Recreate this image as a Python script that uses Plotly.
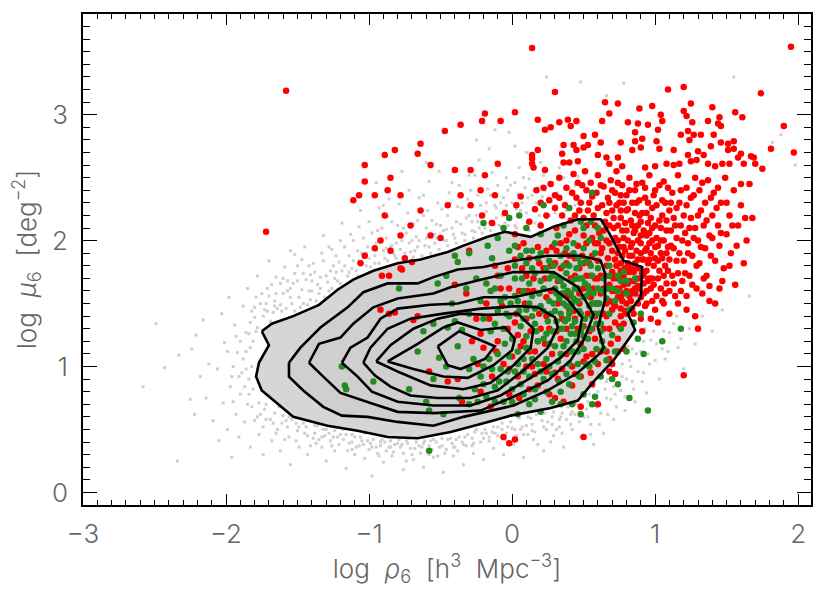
"""log rho6 vs log mu6 scatter with density contours"""
import plotly.graph_objects as go

X_TICKS = [-3, -2, -1, 0, 1, 2]
X_TICK_LABELS = ["−3", "−2", "−1", "0", "1", "2"]
Y_TICKS = [0, 1, 2, 3]
X_RANGE = [-3.0, 2.09]
Y_RANGE = [-0.10, 3.80]

# density contours, outermost first
C1 = [(-1.75,1.28),(-1.68,1.34),(-1.53,1.40),(-1.35,1.49),(-1.22,1.61),(-1.11,1.69),(-0.97,1.76),(-0.80,1.82),
      (-0.64,1.85),(-0.45,1.91),(-0.34,1.96),(-0.17,2.03),(-0.05,2.07),(0.13,2.03),(0.29,2.11),(0.46,2.17),
      (0.62,2.17),(0.67,2.08),(0.78,1.84),(0.91,1.79),(0.90,1.55),(0.81,1.42),(0.86,1.29),(0.71,1.05),
      (0.57,0.88),(0.46,0.73),(0.27,0.67),(-0.01,0.61),(-0.20,0.55),(-0.43,0.48),(-0.66,0.43),(-0.87,0.44),
      (-1.08,0.49),(-1.29,0.53),(-1.53,0.60),(-1.67,0.73),(-1.75,0.81),(-1.79,0.92),(-1.77,1.03),(-1.70,1.17)]
C2 = [(-1.56,1.03),(-1.48,1.15),(-1.34,1.31),(-1.15,1.47),(-1.04,1.59),(-0.87,1.66),(-0.66,1.66),(-0.55,1.71),
      (-0.38,1.77),(-0.20,1.79),(0.01,1.84),(0.25,1.88),(0.48,1.88),(0.62,1.84),(0.65,1.74),(0.65,1.53),
      (0.60,1.31),(0.64,1.15),(0.62,1.11),(0.46,0.95),(0.25,0.81),(0.01,0.69),(-0.34,0.60),(-0.55,0.53),
      (-0.80,0.56),(-1.01,0.60),(-1.19,0.61),(-1.32,0.68),(-1.46,0.81),(-1.56,0.92)]
C3 = [(-1.42,1.03),(-1.35,1.18),(-1.20,1.23),(-1.11,1.34),(-0.97,1.47),(-0.80,1.54),(-0.55,1.58),(-0.43,1.63),
      (-0.22,1.69),(0.01,1.75),(0.29,1.75),(0.46,1.63),(0.57,1.41),(0.50,1.21),(0.41,1.05),(0.25,0.89),
      (0.01,0.76),(-0.22,0.65),(-0.55,0.63),(-0.80,0.64),(-0.99,0.71),(-1.20,0.79),(-1.32,0.92)]
C4 = [(-1.19,1.03),(-1.13,1.15),(-1.01,1.23),(-0.92,1.38),(-0.80,1.46),(-0.57,1.49),(-0.38,1.50),(-0.20,1.55),
      (0.01,1.55),(0.29,1.62),(0.39,1.53),(0.49,1.39),(0.46,1.21),(0.34,1.07),(0.13,0.91),(-0.08,0.77),
      (-0.29,0.69),(-0.55,0.69),(-0.80,0.72),(-0.98,0.80),(-1.08,0.92)]
C5 = [(-1.04,1.03),(-0.99,1.15),(-0.87,1.30),(-0.71,1.38),(-0.48,1.42),(-0.22,1.46),(0.04,1.48),(0.18,1.47),
      (0.30,1.39),(0.32,1.31),(0.25,1.15),(0.08,0.97),(-0.10,0.81),(-0.29,0.75),(-0.52,0.75),(-0.71,0.77),
      (-0.85,0.84),(-0.96,0.93)]
C6 = [(-0.95,1.04),(-0.85,1.17),(-0.69,1.30),(-0.52,1.38),(-0.36,1.42),(-0.17,1.41),(0.04,1.42),(0.15,1.30),
      (0.13,1.15),(0.01,1.01),(-0.15,0.87),(-0.34,0.82),(-0.57,0.85),(-0.78,0.95)]
C7 = [(-0.87,1.04),(-0.66,1.18),(-0.48,1.31),(-0.38,1.35),(-0.22,1.29),(-0.05,1.31),(0.02,1.22),(0.00,1.13),
      (-0.13,1.01),(-0.31,0.91),(-0.48,0.92),(-0.69,0.98)]
C8 = [(-0.52,1.16),(-0.37,1.28),(-0.12,1.16),(-0.19,1.06),(-0.36,0.98),(-0.45,1.01)]
CONTOURS = [C1, C2, C3, C4, C5, C6, C7, C8]

GRAY = [(-2.58,.84),(-2.49,1.34),(-2.43,.99),(-2.34,.25),(-2.16,1.37),(-2.21,1.25),(-2.33,1.09),(-2.24,1.14),(-2.12,1.02),
(-2.18,.92),(-2.25,.74),(-2.14,.75),(-2.09,.57),(-2.22,.62),(-2.05,.41),(-1.96,.28),(-2.06,.98),(-2.01,1.19),(-2.03,1.42),
(-1.98,1.55),(-1.94,1.33),(-1.92,1.11),(-1.97,.84),(-2.02,.71),(-1.93,.62),(-1.99,.5),(-1.91,.44),(-1.88,1.48),(-1.85,1.62),
(-1.86,1.27),(-1.89,.95),(-1.84,.78),(-1.87,.56),(-1.83,.36),(-1.81,1.2),(-1.8,1.39),(-1.79,1.55),(-1.78,1.72),(-1.76,.62),
(-1.77,.46),(-1.74,.3),(-1.73,1.45),(-1.71,1.62),(-1.7,1.84),(-1.69,.58),(-1.68,.41),(-1.66,1.52),(-1.65,1.71),(-1.64,.5),
(-1.62,.33),(-1.61,1.44),(-1.6,1.58),(-1.59,1.79),(-1.58,.57),(-1.56,.44),(-1.55,.22),(-1.54,1.5),(-1.53,1.66),(-1.52,1.89),
(-1.5,.49),(-1.49,.36),(-1.48,1.47),(-1.47,1.61),(-1.46,1.74),(-1.45,1.95),(-1.44,.52),(-1.43,.3),(-1.41,1.53),(-1.4,1.68),
(-1.39,1.82),(-1.38,.47),(-1.37,.39),(-1.35,1.58),(-1.34,1.71),(-1.33,1.9),(-1.32,2.04),(-1.31,.45),(-1.3,.25),(-1.28,1.6),
(-1.27,1.76),(-1.26,1.93),(-1.25,.44),(-1.24,.33),(-1.22,1.68),(-1.21,1.83),(-1.2,2.0),(-1.19,2.14),(-1.18,.42),(-1.16,.19),
(-1.15,1.72),(-1.14,1.88),(-1.13,2.05),(-1.12,.4),(-1.1,.3),(-1.09,1.76),(-1.08,1.92),(-1.07,2.11),(-1.06,2.24),(-1.05,.41),
(-1.03,.27),(-1.02,1.8),(-1.01,1.95),(-1.0,2.15),(-.99,.39),(-.98,.13),(-.96,1.82),(-.95,1.98),(-.94,2.08),(-.93,2.26),
(-.92,.37),(-.9,.24),(-.89,1.86),(-.88,2.02),(-.87,2.19),(-.86,2.33),(-.85,.36),(-.84,.29),(-.82,1.88),(-.81,1.98),(-.8,2.12),
(-.79,2.29),(-.78,.36),(-.76,.18),(-.75,1.9),(-.74,2.06),(-.73,2.22),(-.72,2.4),(-.71,.35),(-.69,.26),(-.68,1.92),(-.67,2.03),
(-.66,2.16),(-.65,2.34),(-.63,.36),(-.62,.2),(-.61,1.96),(-.6,2.1),(-.59,2.24),(-.58,2.47),(-.56,.34),(-.55,.28),(-.54,1.98),
(-.53,2.13),(-.52,2.3),(-.51,2.55),(-.49,.37),(-.48,.16),(-.47,2.0),(-.46,2.09),(-.45,2.2),(-.44,2.38),(-.42,.39),(-.41,.29),
(-.4,2.02),(-.39,2.15),(-.38,2.27),(-.37,2.44),(-.35,.4),(-.34,.22),(-.33,2.05),(-.32,2.18),(-.31,2.33),(-.3,2.52),(-.28,.43),
(-.27,.31),(-.26,2.07),(-.25,2.2),(-.24,2.36),(-.23,2.64),(-.21,.47),(-.2,.26),(-.19,2.1),(-.18,2.23),(-.17,2.41),(-.16,2.73),
(-.14,.48),(-.13,.35),(-.12,2.13),(-.11,2.26),(-.1,2.44),(-.09,2.6),(-.07,.5),(-.06,.3),(-.05,2.14),(-.04,2.28),(-.03,2.4),
(-.02,2.86),(0,.51),(.01,.38),(.02,2.12),(.03,2.25),(.04,2.37),(.05,2.58),(.07,.52),(.08,.28),(.09,2.1),(.1,2.22),(.11,2.34),
(.12,2.49),(.14,.54),(.15,.42),(.16,2.14),(.17,2.3),(.18,2.42),(.2,2.62),(.21,.57),(.22,.33),(.24,2.18),(.25,2.33),(.26,2.46),
(.28,.6),(.29,.45),(.3,2.22),(.32,2.38),(.33,2.58),(.35,.63),(.36,.36),(.38,2.24),(.39,2.42),(.41,.62),(.42,.5),(.44,2.28),
(.46,2.51),(.47,.68),(.48,.44),(.5,2.3),(.53,.72),(.55,.54),(.57,.38),(.6,.8),(.62,.63),(.64,.47),(.67,.9),(.69,.74),(.71,.58),
(.74,.95),(.76,.81),(.79,.65),(.82,1.05),(.84,.88),(.86,.72),(.9,1.12),(.92,.95),(.94,.79),(.97,1.21),(1.0,1.05),(1.03,.9),
(1.06,1.28),(1.09,1.12),(1.13,1.34),(1.16,1.15),(1.2,.98),(1.24,1.3),(1.28,1.18),(1.33,1.4),(1.4,1.28),(1.47,1.45),
(.24,3.3),(.48,3.26),(.66,3.15),(.78,3.25),(1.55,3.3),(1.88,2.84),(1.98,2.6),(1.82,2.78),(1.66,1.56),(-.95,2.46),(-.77,2.55),
(-.6,2.62),(-.25,2.8),(-.12,2.88),(.02,2.75),(.1,2.7),(-1.42,1.8),(-1.55,1.92),(-1.66,1.48),(-1.82,1.0),(-1.9,.78),(-1.58,.71),
(-1.46,.55),(-1.35,.42),(-1.12,.34),(-.93,.29),(-.74,.25),(-.58,.3),(-.38,.33),(-.16,.41),(.11,.46),(.33,.52),(.5,.6),(.66,.75),
(-1.72,.7),(-1.84,.9),(-1.95,1.0),(-1.86,1.12),(-1.83,1.35),(-1.76,1.5),(-1.68,1.65),(-1.57,1.68),(-1.42,1.6),(-1.25,1.8),(-1.05,1.9),
(-.85,1.95),(-.7,2.0),(-.5,2.12),(-.28,2.15),(-.07,2.2),(.19,2.2),(.4,2.25)]

# the thick halo right around the outer contour
GRAY_HALO = [(-1.83,1.15),(-1.81,.82),(-1.78,1.31),(-1.77,.71),(-1.74,1.4),(-1.73,.66),(-1.7,.78),(-1.69,1.36),(-1.67,1.43),(-1.66,.63),
(-1.63,.68),(-1.62,1.49),(-1.6,.61),(-1.58,1.46),(-1.57,.52),(-1.55,1.55),(-1.54,.58),(-1.52,1.44),(-1.51,.55),(-1.49,1.55),(-1.48,.6),
(-1.46,1.5),(-1.45,.47),(-1.43,1.49),(-1.42,.57),(-1.4,1.6),(-1.39,.43),(-1.37,1.52),(-1.36,.53),(-1.34,1.62),(-1.33,.36),(-1.31,1.55),
(-1.3,.5),(-1.29,1.67),(-1.27,.41),(-1.26,1.62),(-1.24,.49),(-1.23,1.75),(-1.21,.38),(-1.2,1.66),(-1.18,.5),(-1.17,1.8),(-1.15,.33),
(-1.14,1.75),(-1.12,.46),(-1.11,1.84),(-1.09,.36),(-1.08,1.72),(-1.06,.44),(-1.05,1.82),(-1.03,.47),(-1.02,1.9),(-1.0,.34),(-.99,1.79),
(-.97,.42),(-.96,1.88),(-.94,.31),(-.93,1.82),(-.91,.42),(-.9,1.92),(-.88,.33),(-.87,1.84),(-.85,.41),(-.84,1.96),(-.82,.38),(-.81,1.86),
(-.79,.42),(-.78,1.93),(-.76,.31),(-.75,1.85),(-.73,.39),(-.72,1.98),(-.7,.3),(-.69,1.87),(-.67,.4),(-.66,1.95),(-.64,.31),(-.63,1.88),
(-.61,.41),(-.6,2.02),(-.58,.37),(-.57,1.9),(-.55,.42),(-.54,2.05),(-.52,.29),(-.51,1.93),(-.49,.43),(-.48,2.08),(-.46,.34),(-.45,1.96),
(-.43,.43),(-.42,2.1),(-.4,.36),(-.39,1.98),(-.37,.44),(-.36,2.13),(-.34,.38),(-.33,2.0),(-.31,.46),(-.3,2.2),(-.28,.37),(-.27,2.02),
(-.25,.5),(-.24,2.15),(-.22,.4),(-.21,2.06),(-.19,.5),(-.18,2.3),(-.16,.44),(-.15,2.08),(-.13,.52),(-.12,2.28),(-.1,.45),(-.09,2.12),
(-.07,.55),(-.06,2.34),(-.04,.47),(-.03,2.12),(-.01,.56),(0,2.3),(.02,.5),(.03,2.1),(.05,.59),(.06,2.24),(.08,.46),(.09,2.42),
(.11,.6),(.12,2.08),(.14,.49),(.15,2.25),(.17,.62),(.18,.38),(.2,2.14),(.21,2.35),(.23,.63),(.24,.5),(.26,2.2),(.27,.4),(.29,.64),
(.31,2.28),(.33,.58),(.35,.47),(.37,2.3),(.39,.68),(.41,.54),(.43,2.36),(.45,.7),(.47,.56),(.49,2.24),(.51,.76),(.53,.6),(.55,.46),
(.57,.84),(.59,.68),(.61,.54),(.63,.95),(.65,.82),(.67,.62),(.69,1.0),(.71,.84),(.73,.68),(.75,1.1),(.77,.92),(.79,.76),(.81,1.16),
(.83,1.0),(.85,.82),(.87,1.1),(.89,1.22),(.91,.88),(.93,1.3),(.95,1.1),(.98,1.38),(1.01,1.18),(1.04,1.36),(1.07,1.06),(1.1,1.27),
(1.15,1.4),(1.18,1.22),(-1.91,.92),(-1.9,1.2),(-1.88,1.06),(-1.87,.84),(-1.85,.7),(-1.84,1.26),(-1.82,1.44),(-1.8,.57),(-1.79,1.28),
(-1.93,1.24),(-1.96,.92),(-1.99,1.12),(-1.95,.72),(-1.72,1.5),(-1.7,1.56),(-1.65,1.58),(-1.62,1.66),(-1.57,1.6),(-1.52,1.74),(-1.5,1.8),
(-1.44,1.69),(-1.38,1.75),(-1.32,1.84),(-1.28,1.95),(-1.23,1.88),(-1.17,1.95),(-1.11,2.0),(-1.04,2.02),(-.98,2.06),(-.91,2.1),(-.84,2.15),
(-.76,2.1),(-.69,2.13),(-.62,2.2),(-.56,2.16),(-.49,2.25),(-.43,2.3),(-.35,2.26),(-.29,2.4),(-.22,2.28),(-.15,2.36),(-.08,2.3),(-.01,2.44),
(.07,2.3),(.14,2.36),(.23,2.4),(-1.74,.52),(-1.65,.47),(-1.59,.42),(-1.51,.41),(-1.41,.37),(-1.33,.44),(-1.26,.37),(-1.2,.46),(-1.14,.39),
(-1.07,.37),(-1.01,.41),(-.95,.36),(-.89,.4),(-.83,.32),(-.77,.38),(-.72,.43),(-.65,.37),(-.59,.33),(-.53,.4),(-.47,.31),(-.41,.36),
(-.33,.44),(-.27,.39),(-.2,.43),(-.12,.47),(-.05,.42),(.03,.45),(.1,.53),(.16,.48),(.25,.56),(.31,.5),(.38,.58),(.44,.62),(.52,.66),
(-1.8,1.47),(-1.75,1.58),(-1.71,1.44),(-1.64,1.46),(-1.6,1.7),(-1.55,1.62),(-1.5,1.68),(-1.47,1.85),(-1.41,1.73),(-1.36,1.65),(-1.3,1.72),
(-1.24,1.7),(-1.19,1.76),(-1.12,1.78),(-1.07,1.84),(-1.0,1.86),(-.95,1.92),(-.88,1.94),(-.83,1.9),(-.77,2.0),(-.71,1.91),(-.65,2.0),
(-.58,1.95),(-.53,2.02),(-.46,2.0),(-.41,2.05),(-.35,2.06),(-.28,2.08),(-.23,2.1),(-.16,2.14),(-.11,2.18),(-.03,2.2),(-1.86,.98),(-1.82,.68),
(-1.78,.6),(-1.72,.58),(-1.67,.55),(-1.61,.55),(-1.56,.6),(-1.49,.52),(-1.43,.45),(-1.38,.53),(-1.32,.5),(-1.28,.47),(-1.22,.44),(-1.16,.46),
(-1.1,.44),(-1.04,.38),(-.98,.36),(-.92,.4),(-.86,.36),(-.8,.39),(-.74,.41),(-.68,.35),(-.62,.39),(-.57,.41),(-.51,.36),(-.45,.42),(-.39,.42),
(-.32,.37),(-.26,.48),(-.18,.47),(-.1,.52),(-.03,.52),(.06,.5),(.13,.59),(.22,.52),(.28,.54),(.34,.6),(.42,.64),(.48,.7),(.54,.78),(.6,.72),
(.66,.88),(.72,.78),(.77,1.02),(.8,.9),(.84,1.14),(.88,.96),(.92,1.2),(.96,1.02),(.99,1.28),(1.05,1.14),(-.9,2.28),(-.62,2.36),(-.42,2.46),
(-.26,2.52),(-.14,2.54),(-.04,2.5),(.02,2.46),(.08,2.5),(.22,2.52),(.36,2.5),(.44,2.44),(.54,2.46)]

RED = [(.14,3.53),(1.95,3.54),(1.20,3.22),(1.09,3.20),(1.74,3.17),(.30,3.18),(.65,3.10),(.74,3.09),(1.25,3.09),(.98,3.07),
(.89,3.05),(1.40,3.06),(1.20,3.03),(1.56,3.02),(1.04,3.00),(.68,3.01),(.02,3.02),(-.19,3.01),(-.21,2.95),(-.08,2.95),(.18,2.96),
(.33,2.94),(.39,2.96),(.45,2.95),(.63,2.95),(.81,2.94),(.88,2.93),(.95,2.92),(1.05,2.95),(1.22,2.99),(1.26,2.94),(1.37,2.95),
(1.45,2.98),(1.61,2.98),(1.44,2.93),(1.46,2.91),(1.90,2.91),(1.81,2.73),(1.97,2.70),(.23,2.88),(.27,2.90),(.41,2.91),(1.02,2.88),
(.86,2.86),(1.23,2.87),(.50,2.83),(.58,2.84),(.91,2.81),(1.18,2.84),(1.27,2.84),(1.32,2.84),(1.41,2.84),(.36,2.76),(.43,2.76),
(.53,2.76),(.62,2.78),(.76,2.78),(.86,2.79),(1.01,2.79),(1.24,2.80),(1.46,2.78),(1.55,2.79),(1.51,2.77),(.18,2.72),(.35,2.69),
(.45,2.72),(.50,2.74),(.60,2.68),(.74,2.66),(.84,2.72),(.90,2.74),(1.03,2.73),(1.13,2.72),(1.30,2.71),(1.39,2.75),(1.51,2.72),
(1.55,2.73),(1.60,2.69),(1.67,2.67),(1.69,2.66),(1.58,2.66),(1.34,2.68),(.14,2.68),(.14,2.65),(.14,2.61),(.15,2.58),(-.10,2.61),
(.23,2.56),(.36,2.62),(.40,2.62),(.46,2.63),(.66,2.66),(.68,2.61),(.77,2.59),(.93,2.58),(1.00,2.59),(1.08,2.61),(1.13,2.60),
(1.17,2.61),(1.23,2.68),(1.25,2.63),(1.29,2.64),(1.37,2.61),(1.42,2.59),(1.47,2.61),(1.52,2.61),(1.62,2.61),(1.70,2.61),(1.75,2.57),
(-1.58,3.19),(-1.72,2.07),(-.64,2.77),(-.66,2.69),(-.47,2.87),(-.36,2.92),(-.82,2.72),(-.89,2.68),(-1.03,2.60),(-1.03,2.47),(-.85,2.50),
(-.87,2.40),(-.89,2.20),(-1.07,2.36),(-1.11,2.32),(-.96,2.36),(-.78,2.36),(-.64,2.24),(-.57,2.60),(-.40,2.56),(-.29,2.56),(-.19,2.52),
(-.36,2.36),(-.22,2.40),(-.12,2.36),(-.45,2.28),(-.29,2.28),(-.71,2.12),(-.78,2.04),(-.57,2.04),(-.92,2.00),(-.75,1.86),(-.85,1.92),
(-.70,1.83),(-.50,2.02),(-.96,1.94),(-1.03,1.88),(-1.06,1.82),(-.91,1.72),(-.86,1.72),(-.78,1.78),(-.77,1.77),(-.86,1.42),(-.82,1.43),
(-.66,1.40),(-.69,1.37),(-.92,1.45),(-.30,1.92),(-.14,2.14),(-.05,2.22),(.03,2.28),(.06,2.35),(-.21,2.2),(.02,2.05),(.08,1.98),
(.12,2.15),(.17,2.4),(.2,2.3),(.24,2.2),(.27,2.45),(.3,2.36),(.31,2.1),(.33,2.5),(.37,2.28),(.38,2.42),(.41,2.16),(.43,2.53),
(.45,2.34),(.47,2.24),(.49,2.44),(.51,2.55),(.52,2.12),(.54,2.3),(.55,2.46),(.57,2.2),(.59,2.38),(.6,2.52),(.61,2.06),(.63,2.28),
(.64,2.43),(.65,2.15),(.67,2.34),(.68,1.98),(.69,2.48),(.7,2.24),(.71,2.1),(.72,2.38),(.73,2.55),(.74,1.9),(.75,2.3),(.76,2.18),
(.77,2.44),(.78,2.02),(.79,1.78),(.8,2.36),(.81,2.25),(.82,2.5),(.83,1.95),(.84,2.12),(.85,1.68),(.86,2.4),(.87,2.3),(.88,1.85),
(.89,2.2),(.9,2.04),(.91,2.46),(.92,1.72),(.93,2.34),(.94,1.94),(.95,2.14),(.96,2.52),(.97,1.62),(.98,2.26),(.99,1.8),(1.0,2.4),
(1.01,2.02),(1.02,1.7),(1.03,2.16),(1.04,1.9),(1.05,2.32),(1.06,2.47),(1.07,1.58),(1.08,2.08),(1.09,1.76),(1.1,2.24),(1.11,1.96),
(1.12,2.38),(1.13,1.66),(1.14,2.12),(1.15,1.84),(1.16,2.52),(1.17,2.3),(1.18,1.6),(1.19,2.0),(1.2,2.2),(1.21,1.74),(1.22,2.42),
(1.23,1.9),(1.24,2.1),(1.25,2.34),(1.26,1.65),(1.27,2.02),(1.28,2.5),(1.29,1.8),(1.3,2.2),(1.31,2.4),(1.32,1.95),(1.33,1.58),
(1.34,2.12),(1.35,2.3),(1.36,1.72),(1.37,2.48),(1.38,2.04),(1.39,1.88),(1.4,2.2),(1.41,2.38),(1.42,1.5),(1.44,2.12),(1.45,1.96),
(1.46,2.3),(1.48,1.78),(1.49,2.5),(1.5,2.05),(1.52,2.2),(1.53,1.9),(1.55,2.4),(1.56,1.65),(1.58,2.12),(1.6,2.28),(1.62,1.82),
(1.64,2.0),(1.66,2.45),(1.68,2.18),(1.45,1.62),(1.38,1.52),(1.28,1.4),(1.3,1.3),(1.22,1.45),(1.16,1.5),(1.1,1.42),(1.05,1.52),
(1.0,1.45),(1.02,1.35),(.97,1.38),(.94,1.5),(.91,1.28),(1.2,.93),(.5,.44),(.02,.42),(-.02,.39),(-.06,.44),
(.72,1.6),(.74,1.7),(.76,1.55),(.78,1.65),(.8,1.5),(.82,1.75),(.84,1.6),(.86,1.82),(.88,1.7),(.9,1.9),(.92,1.58),(.94,1.76),(.96,1.85),
(.98,1.7),(1.0,1.95),(1.02,1.84),(1.04,2.0),(1.06,1.72),(1.08,1.9),(.7,1.75),(.72,1.85),(.74,2.0),(.76,1.82),(.78,1.95),(.8,2.08),
(.82,1.88),(.84,1.98),(.86,2.08),(.88,2.0),(.9,2.15),(.92,1.85),(.94,2.04),(.96,1.98),(.98,2.1),(.68,1.65),(.66,1.8),(.7,1.45),
(.72,1.35),(.74,1.22),(.68,1.3),(.66,1.5),(.69,1.18),(.76,1.4),(.6,1.98),(.56,2.02),(.5,2.04),(.44,2.08),(.38,2.0),(.62,1.9),
(.58,1.7),(.55,1.55),(.5,1.82),(.44,1.72),(.38,1.82),(.32,1.68),(.28,1.95),(.22,1.78),(.18,1.95),(.1,1.72),(.62,1.42),(.58,1.22),
(.52,1.08),(.46,1.3),(.4,1.45),(.34,1.22),(.28,1.1),(.2,1.3),(.12,1.12),(.1,1.38),(.04,1.25),(-.02,.98),(-.1,1.2),(-.14,.92),(-.02,1.62),
(-.1,1.72),(.05,1.6),(-.25,1.38),(-.32,1.58),(-.18,1.5),(-.4,1.65),(.3,.75),(.42,.85),(.55,.95),(.6,1.02),(.68,.96),(.35,.98),(.18,.85),(.05,.75),
(-.15,.68),(-.35,.72),(-.45,.88),(.24,1.55),(.36,1.58),(.47,1.5),(.15,1.6),(.24,1.4)]

# the red core, where the dots merge
RED_CORE = [(.53,2.24),(.56,2.35),(.58,2.12),(.6,2.26),(.62,2.44),(.64,2.08),(.66,2.22),(.66,2.0),(.68,2.3),(.68,2.12),(.7,2.4),(.7,1.92),
(.71,1.7),(.71,2.18),(.72,2.02),(.73,2.28),(.73,1.8),(.74,2.12),(.74,2.46),(.75,1.95),(.75,1.62),(.76,2.24),(.76,2.36),(.77,1.88),(.77,2.08),
(.78,1.72),(.78,2.3),(.79,2.14),(.79,1.92),(.8,1.6),(.8,2.24),(.81,1.82),(.81,2.0),(.82,2.4),(.82,1.68),(.83,2.16),(.83,1.52),(.84,2.3),
(.84,1.88),(.85,2.06),(.85,1.75),(.86,2.22),(.86,1.58),(.87,1.92),(.87,2.45),(.88,2.12),(.88,1.64),(.89,1.78),(.89,2.32),(.9,1.98),(.9,1.55),
(.91,2.22),(.91,1.85),(.92,2.08),(.92,1.66),(.93,1.92),(.93,2.42),(.94,2.22),(.94,1.6),(.95,1.82),(.95,2.3),(.96,2.06),(.96,1.7),(.97,1.9),
(.97,2.18),(.98,1.52),(.98,2.0),(.99,2.36),(.99,1.65),(1.0,1.86),(1.0,2.12),(1.01,1.56),(1.01,2.28),(1.02,1.96),(1.03,1.76),(1.03,2.44),
(1.04,2.1),(1.04,1.62),(1.05,1.86),(1.05,2.2),(1.06,2.0),(1.06,1.5),(1.07,2.3),(1.07,1.8),(1.08,1.66),(1.08,2.16),(1.09,1.95),(1.09,2.42),
(1.1,1.6),(1.1,1.85),(1.11,2.08),(1.11,2.3),(1.12,1.72),(1.13,1.94),(1.13,2.18),(1.14,1.56),(1.15,2.02),(1.15,2.26),(1.16,1.74),(1.17,1.9),
(1.18,2.12),(1.18,2.4),(1.19,1.68),(1.2,1.84),(1.21,2.06),(1.22,1.56),(1.22,2.28),(1.23,1.98),(1.24,1.72),(1.25,2.18),(1.26,1.88),(1.27,2.36),
(1.28,2.1),(1.29,1.62),(1.3,2.0),(1.31,1.82),(1.32,2.24),(1.33,2.46),(1.34,1.7),(1.35,1.94),(1.36,2.16),(1.38,1.64),(1.39,2.34),(1.4,2.02),
(1.42,1.84),(1.43,2.26),(1.44,2.42),(1.46,2.06),(1.47,1.68),(1.5,2.3),(1.52,1.8),(1.54,2.12),(1.57,1.96),(1.6,2.45),(1.63,2.18),
(.4,2.05),(.42,2.38),(.44,2.2),(.46,2.46),(.48,2.3),(.5,2.18),(.52,2.4),(.35,2.2),(.33,2.34),(.3,2.26),(.26,2.32),(.22,2.42),(.2,2.12),(.16,2.25),
(.62,1.72),(.64,1.62),(.66,1.4),(.68,1.52),(.7,1.6),(.72,1.48),(.72,1.72),(.74,1.55),(.76,1.76),(.76,1.46),(.78,1.58),(.78,1.34),(.8,1.42),
(.82,1.56),(.84,1.46),(.86,1.62),(.88,1.5),(.9,1.38),(.74,1.12),(.7,1.02),(.66,1.12),(.64,1.3),(.6,1.5),(.56,1.88),(.58,1.98),(.52,1.98),(.46,1.96),
(.4,1.88),(.34,1.98),(.3,1.82),(.24,1.92),(.12,1.86),(.04,1.95),(.55,1.72),(.5,1.62),(.58,1.4),(.54,1.28),(.48,1.18),(.44,1.38),(.38,1.3),(.32,1.5),
(.26,1.3),(.18,1.2),(.14,1.0),(.22,1.02),(.08,1.2),(.3,.95),(.48,.92),(.56,1.1),(.42,1.0),(.02,1.35),(-.06,1.02),(-.2,1.15),(-.28,1.2),
(.6,1.84),(.63,1.94),(.65,1.72),(.67,1.86),(.69,1.72),(.71,1.5),(.73,1.62),(.75,1.32),(.77,1.52),(.79,1.44),(.81,1.66),(.83,1.78),(.85,1.42),(.87,1.78),
(.89,1.62),(.91,1.74),(.93,1.48),(.95,1.68),(.64,1.42),(.66,1.62),(.62,1.58),(.6,1.7),(.57,1.62),(.54,1.82),(.52,1.72),(.49,1.88),(.47,1.78),(.44,1.86),
(.41,1.7),(.37,1.9),(.34,1.78),(.31,1.92),(.27,1.8),(.23,1.7),(.19,1.82),(.15,1.7),(.11,1.6),(.07,1.78),(.02,1.85),(-.03,1.78),(-.08,1.62),(-.12,1.8),
(.59,1.5),(.56,1.3),(.53,1.42),(.5,1.32),(.47,1.58),(.43,1.44),(.39,1.56),(.35,1.38),(.31,1.28),(.27,1.6),(.23,1.18),(.19,1.42),(.16,1.12),(.13,1.28),
(.09,1.5),(.06,1.16),(.03,1.42),(0,1.08),(-.03,1.3),(-.07,1.48),(-.11,1.12),(-.16,1.38),(-.22,1.26),(.04,.92),(.1,1.0),(.16,.94),(.24,.96),(.32,.9),
(.38,1.1),(.44,.94),(.5,1.04),(.56,.86),(.62,1.12),(.68,1.06),(.72,.94),(.78,1.14),(.6,.7),(.48,.68),(.36,.72),(.26,.78),(.12,.82),(-.02,.78),(-.22,.8),
(-.38,.9),(-.58,.96),(-.24,1.02)]

GREEN = [(-.79,1.62),(-1.19,1.0),(-1.17,.85),(-.97,.88),(-1.16,.82),(-.6,.72),(-.58,.65),(-.48,.62),(-.37,.75),(-.3,.7),(-.58,.33),
(-.55,.9),(-.72,.82),(-.66,1.12),(-.51,1.07),(-.46,1.0),(-.38,1.16),(-.35,1.29),(-.27,1.06),(-.2,1.0),(-.1,1.1),(-.05,1.18),(-.15,1.28),
(-.12,1.34),(-.3,1.42),(-.4,1.36),(-.45,1.31),(-.22,1.52),(-.25,1.7),(-.38,1.83),(-.4,1.88),(-.46,1.72),(-.52,1.66),(-.3,1.9),(-.17,1.96),
(-.1,2.02),(-.06,2.1),(-.2,2.14),(-.02,2.18),(.05,2.2),(.22,2.28),(.1,2.1),(.14,1.92),(.2,2.05),(.32,2.04),(.36,2.12),(.4,2.26),(.48,2.15),
(.56,2.38),(.55,2.15),(.5,2.1),(.6,2.1),(.62,2.02),(-.14,1.86),(-.08,1.72),(-.15,1.6),(-.05,1.55),(.02,1.7),(.06,1.88),(.1,1.82),(.16,1.74),
(.2,1.9),(.26,1.84),(.3,1.98),(.34,1.88),(.38,1.94),(.43,1.98),(.46,1.86),(.5,1.94),(.54,2.0),(.58,1.9),(.6,1.78),(.64,1.7),
(.74,1.6),(.76,1.68),(.8,1.58),(.72,1.52),(.86,1.7),(.9,1.42),(.88,1.22),(.85,1.35),(.8,1.12),(.76,1.3),(.74,.86),(.92,1.1),(.62,1.28),
(.66,1.05),(.62,.92),(.58,.76),(.5,.78),(.42,.7),(.34,.8),(.28,.72),(.2,.64),(.12,.7),(.04,.62),(.82,.75),(.95,.65),(1.18,1.3),(1.05,1.2),
(-.02,1.4),(.04,1.52),(.1,1.45),(.14,1.56),(.16,1.34),(.2,1.48),(.22,1.62),(.25,1.36),(.26,1.52),(.28,1.72),(.3,1.44),(.31,1.58),(.33,1.3),
(.34,1.68),(.36,1.5),(.37,1.36),(.38,1.74),(.39,1.6),(.4,1.42),(.41,1.26),(.42,1.68),(.43,1.54),(.44,1.36),(.45,1.78),(.46,1.62),(.47,1.44),
(.48,1.28),(.49,1.7),(.5,1.55),(.51,1.38),(.52,1.84),(.53,1.64),(.54,1.48),(.55,1.3),(.56,1.72),(.57,1.58),(.58,1.42),(.59,1.14),(.6,1.62),
(.61,1.5),(.62,1.34),(.63,1.2),(.5,1.14),(.46,1.02),(.42,1.12),(.38,.94),(.36,1.16),(.32,1.04),(.28,.94),(.26,1.18),(.24,1.06),(.2,.96),(.18,1.2),
(.16,.82),(.14,1.06),(.12,.92),(.1,1.24),(.08,1.06),(.06,.86),(.04,1.12),(.02,.96),(.0,.82),(-.02,1.08),(-.04,.88),(-.06,.72),(-.08,.98),
(-.12,.84),(-.16,1.06),(-.18,.76),(-.22,.92),(-.26,.82),(-.3,.98),(.34,1.42),(.28,1.28),(.22,1.22),(.16,1.46),(.42,1.5),(.47,1.7),(.52,1.56),
(.44,1.62),(.36,1.64),(.4,1.8),(.48,1.42),(.54,1.6),(.5,1.24),(.56,1.4),(.45,1.2),(.42,1.32),(.38,1.48),(.33,1.54),(.3,1.62),(.26,1.7),
(-.02,1.92),(.02,1.96),(.08,1.6),(.12,1.66),(-.1,1.44),(-.2,1.38),(-.06,1.3),(.06,1.32),(.1,1.15),(.0,1.22),(-.32,1.62),(-.42,1.5),(-.55,1.34),
(-.62,1.28),(.68,1.8),(.7,1.62),(.66,1.54),(.68,1.42),(.7,1.25),(.72,1.12),(.67,1.62),(.78,1.75),(.82,1.45)]

# green clump on the right of the contours
GREEN_CLUMP = [(.46,1.52),(.49,1.32),(.53,1.22),(.56,1.5),(.59,1.34),(.44,1.26),(.41,1.46),(.38,1.2),(.35,1.3),(.31,1.36),(.29,1.5),(.27,1.42),(.24,1.26),
(.22,1.44),(.19,1.58),(.17,1.28),(.14,1.4),(.12,1.5),(.08,1.38),(.05,1.44),(.02,1.56),(-.01,1.5),(-.04,1.42),(-.08,1.52),(-.12,1.62),(-.18,1.66),
(.32,1.7),(.35,1.58),(.29,1.8),(.24,1.78),(.2,1.68),(.18,1.86),(.14,1.78),(.1,1.92),(.07,1.7),(.02,1.8),(.41,1.58),(.45,1.7),(.48,1.82),(.51,1.66),
(.55,1.8),(.58,1.5),(.61,1.42),(.63,1.6),(.43,1.9),(.36,1.8),(.39,1.38),(.46,1.12),(.52,1.02),(.4,1.02),(.34,1.1),(.3,1.16),(.22,.9),(.26,1.0),(.18,1.02),
(.12,1.14),(.08,.96),(.04,1.02),(-.03,.96),(-.09,.88),(-.14,.98),(-.2,.86),(.0,.72),(.08,.78),(.16,.74),(.24,.8),(.33,.88),(.4,.86),(.47,.92),(.54,1.0),
(.58,1.04),(.64,1.14),(.34,.7),(.7,.9),(.56,.7),(.48,.62),(-.24,.72),(-.12,.72),(.68,1.72),(.74,1.72),(.8,1.68)]


def closed(points):
    xs = [p[0] for p in points] + [points[0][0]]
    ys = [p[1] for p in points] + [points[0][1]]
    return xs, ys


def dots(points, color, size, symbol="circle"):
    return go.Scatter(x=[p[0] for p in points], y=[p[1] for p in points], mode="markers",
                      marker=dict(color=color, size=size, symbol=symbol, line=dict(width=0)),
                      showlegend=False, hoverinfo="skip")


fig = go.Figure()

fig.add_trace(dots(GRAY + GRAY_HALO, "#cfcfcf", 3, "square"))

# the cloud is solid grey where it is densest
for pts, fill in [(C1, "rgba(207,207,207,0.85)"), (C2, "#cfcfcf")]:
    xs, ys = closed(pts)
    fig.add_trace(go.Scatter(x=xs, y=ys, mode="lines", fill="toself", fillcolor=fill,
                             line=dict(width=0), showlegend=False, hoverinfo="skip"))

fig.add_trace(dots(RED + RED_CORE, "#ff0000", 6.5))
fig.add_trace(dots(GREEN + GREEN_CLUMP, "#228b22", 6.5))

for pts in CONTOURS:
    xs, ys = closed(pts)
    fig.add_trace(go.Scatter(x=xs, y=ys, mode="lines", line=dict(color="black", width=2.6),
                             showlegend=False, hoverinfo="skip"))

axis_style = dict(showgrid=False, zeroline=False, showline=True, linecolor="black", linewidth=1.5,
                  mirror="allticks", ticks="inside", tickcolor="black", tickwidth=1,
                  tickfont=dict(size=26, color="#666666", weight=300))
title_font = dict(size=26, color="#666666", weight=300)

fig.update_xaxes(range=X_RANGE, tickvals=X_TICKS, ticktext=X_TICK_LABELS, ticklen=11,
                 ticklabelstandoff=5,
                 minor=dict(dtick=0.1, ticks="inside", ticklen=5, tickcolor="black", tickwidth=1),
                 title=dict(text="log  <i>ρ</i><sub>6</sub>  [h<sup>3</sup>  Mpc<sup>−3</sup>]",
                            font=title_font, standoff=2),
                 **axis_style)
fig.update_yaxes(range=Y_RANGE, tickvals=Y_TICKS, ticklen=14,
                 ticklabelstandoff=8,
                 minor=dict(dtick=0.1, ticks="inside", ticklen=7, tickcolor="black", tickwidth=1),
                 title=dict(text="log  <i>μ</i><sub>6</sub>  [deg<sup>−2</sup>]",
                            font=title_font, standoff=8),
                 **axis_style)

fig.update_layout(width=830, height=594, plot_bgcolor="white", paper_bgcolor="white",
                  font=dict(family="Inter, Liberation Sans, sans-serif"),
                  margin=dict(l=83, r=19, t=14, b=89, autoexpand=False))

fig.write_html("out.html", config=dict(displayModeBar=False),
               post_script="document.body.style.margin = '0';")
